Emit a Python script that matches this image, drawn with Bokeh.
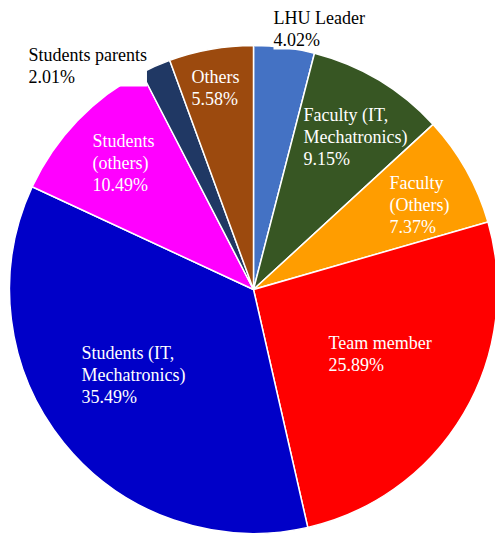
import numpy as np
from bokeh.plotting import figure
from bokeh.models import ColumnDataSource, Range1d
from bokeh.core.properties import value
from bokeh.embed import file_html
from bokeh.resources import INLINE

categories = ["LHU Leader", "Faculty (IT,\nMechatronics)", "Faculty\n(Others)", "Team member",
              "Students (IT,\nMechatronics)", "Students\n(others)", "Students parents", "Others"]
shares = [4.02, 9.15, 7.37, 25.89, 35.49, 10.49, 2.01, 5.58]
colors = ["#4472C4", "#375623", "#FF9D00", "#FF0000", "#0000C8", "#FF00FF", "#203864", "#9C4A0E"]

# label layout (pixel coords of top-left of the label block)
label_x = [273, 303, 389, 328, 81, 92, 28, 191]
label_top = [7, 104, 172, 332, 342, 130, 44, 66]
label_color = ["black", "white", "white", "white", "white", "white", "black", "white"]
label_bg = ["white", None, None, None, None, None, "white", None]

W, H = 495, 535
cx, cy, R = 253, 289, 244

vals = np.array(shares)
frac = vals / vals.sum()
cum = np.concatenate([[0], np.cumsum(frac)])
start = np.pi / 2 - 2 * np.pi * cum[:-1]
end = np.pi / 2 - 2 * np.pi * cum[1:]

src = ColumnDataSource(dict(start=start, end=end, color=colors))

p = figure(width=W, height=H, output_backend="svg", toolbar_location=None,
           x_range=Range1d(0, W), y_range=Range1d(0, H), min_border=0)
p.axis.visible = False
p.grid.visible = False
p.outline_line_color = None
p.background_fill_color = "white"

p.wedge(x=cx, y=H - cy, radius=R, start_angle="start", end_angle="end", direction="clock",
        fill_color="color", line_color="white", line_width=1.5, source=src)

texts = [f"{c}\n{v:.2f}%" for c, v in zip(categories, shares)]
for i, t in enumerate(texts):
    kw = {}
    if label_bg[i]:
        kw = dict(background_fill_color=label_bg[i])
    p.text(x=[label_x[i]], y=[H - label_top[i]], text=[t], text_color=label_color[i],
           text_font=value("'Liberation Serif', 'Times New Roman', serif"), text_font_size="18px",
           text_line_height=1.1, text_align="left", text_baseline="top", **kw)

open("out.html", "w").write(file_html(p, INLINE))
